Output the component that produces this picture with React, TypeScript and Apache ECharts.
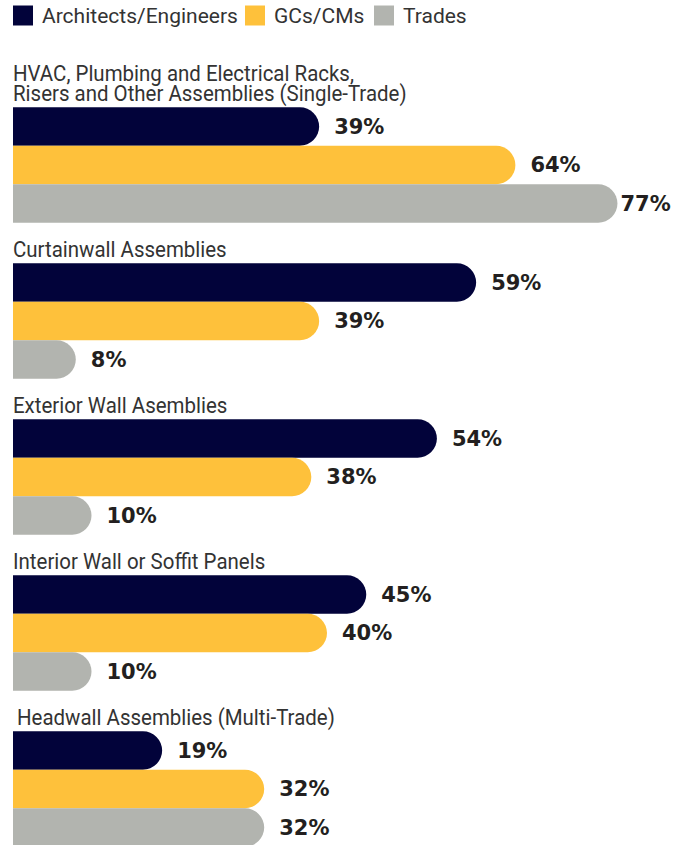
import React, { useEffect, useRef } from "react";
import * as echarts from "echarts";

const categories = [
  "HVAC, Plumbing and Electrical Racks,\nRisers and Other Assemblies (Single-Trade)",
  "Curtainwall Assemblies",
  "Exterior Wall Asemblies",
  "Interior Wall or Soffit Panels",
  "Headwall Assemblies (Multi-Trade)",
];
const seriesNames = ["Architects/Engineers", "GCs/CMs", "Trades"];
const architects = [39, 59, 54, 45, 19];
const gcs = [64, 39, 38, 40, 32];
const trades = [77, 8, 10, 10, 32];

const colors = ["#02033a", "#fec13b", "#b2b4af"];
const BAR_W = 38.5;
const LABEL_W = 51;
const RIGHT_LIMIT = 667;

export default function App() {
  const ref = useRef<HTMLDivElement>(null);
  useEffect(() => {
    document.body.style.margin = "0";
    const chart = echarts.init(ref.current!, null, { renderer: "svg" });
    const values = [architects, gcs, trades];
    const legendLefts = [13, 245, 374];
    const labelStyle = {
      show: true,
      position: "right",
      distance: 15,
      formatter: "{c}%",
      fontFamily: "DejaVu Sans",
      fontWeight: "bold",
      fontSize: 21,
      color: "#231f20",
    };
    chart.setOption({
      animation: false,
      legend: seriesNames.map((n, i) => ({
        data: [n],
        left: legendLefts[i],
        top: 5,
        itemWidth: 20,
        itemHeight: 20,
        icon: "rect",
        padding: 0,
        selectedMode: false,
        textStyle: {
          fontFamily: "Roboto",
          fontSize: 21,
          color: "#333333",
          padding: [0, 0, 0, 4],
        },
      })),
      grid: { left: 13, top: 87, width: 628, height: 780, outerBoundsMode: "none" },
      xAxis: { type: "value", min: 0, max: 80, show: false },
      yAxis: {
        type: "category",
        data: categories,
        inverse: true,
        show: false,
      },
      series: seriesNames.map((n, i) => ({
        name: n,
        type: "bar",
        data: values[i],
        barWidth: BAR_W,
        barGap: "0%",
        itemStyle: { color: colors[i], borderRadius: [0, 20, 20, 0] },
        label: labelStyle,
      })),
    });
    // keep value labels inside the page: shrink the gap for the longest bars
    chart.setOption({
      series: seriesNames.map((n, i) => ({
        name: n,
        data: values[i].map((v) => {
          const endX = chart.convertToPixel({ xAxisIndex: 0 }, v) as number;
          const room = RIGHT_LIMIT - LABEL_W - endX;
          return room < 15
            ? { value: v, label: { distance: Math.max(3, room) } }
            : { value: v };
        }),
      })),
    });
    const graphics = categories.map((c, i) => {
      const center = chart.convertToPixel({ yAxisIndex: 0 }, c) as number;
      const top = center - 1.5 * BAR_W;
      return {
        type: "text",
        x: i === categories.length - 1 ? 17 : 13,
        y: top - 4,
        scaleX: 0.93,
        style: {
          text: c,
          fontFamily: "Roboto",
          fontSize: 22,
          lineHeight: 20,
          fill: "#333333",
          verticalAlign: "bottom",
          align: "left",
        },
      };
    });
    chart.setOption({ graphic: graphics });
    return () => chart.dispose();
  }, []);
  return <div ref={ref} style={{ width: 682, height: 845 }} />;
}
